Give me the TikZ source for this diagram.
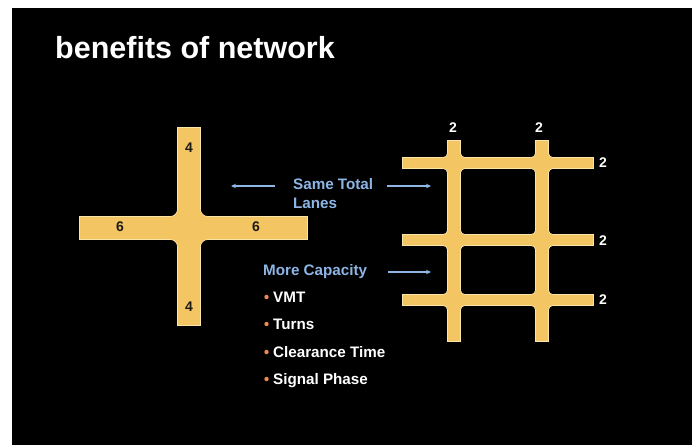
\documentclass[tikz,border=0pt]{standalone}
\usepackage{fontspec}
\setmainfont{Liberation Sans}
\usetikzlibrary{arrows.meta}
\definecolor{road}{HTML}{F3C563}
\definecolor{roadedge}{HTML}{FBE4A8}
\definecolor{lblue}{HTML}{8DB6E6}
\definecolor{borange}{HTML}{EE8A52}
\definecolor{numdark}{HTML}{1E1A14}
% fillet arc (outline pass) and fillet area (fill pass): corner x, y, dir x, dir y, radius
\newcommand\filletarc[5]{\draw[roadedge,line width=1.5pt,shift={(#1,#2)},xscale=#3,yscale=#4] (0,#5) .. controls (0,0.448*#5) and (0.448*#5,0) .. (#5,0);}
\newcommand\filletarea[5]{\fill[road,shift={(#1,#2)},xscale=#3,yscale=#4] (#5,0) -- (0,0) -- (0,#5) .. controls (0,0.448*#5) and (0.448*#5,0) .. (#5,0) -- cycle;}
\begin{document}
\begin{tikzpicture}[x=1pt,y=-1pt,
  edgepass/.style={draw=roadedge,line width=1.5pt},
  fillpass/.style={fill=road},
  lbl/.style={text=lblue,font=\fontsize{15.2}{18}\selectfont\bfseries,inner sep=0pt},
  item/.style={text=white,font=\fontsize{15.2}{18}\selectfont\bfseries,inner sep=0pt,anchor=base west},
  lane/.style={text=numdark,font=\fontsize{14}{16}\selectfont\bfseries,inner sep=0pt},
  lanew/.style={text=white,font=\fontsize{14}{16}\selectfont\bfseries,inner sep=0pt},
  arr/.style={draw=lblue,line width=1.1pt,-{Stealth[length=5pt,width=4.5pt]}}]
\useasboundingbox (0,0) rectangle (692,445);
\fill[white] (0,0) rectangle (692,445);
\fill[black] (12,8) rectangle (692,445);

% title
\node[anchor=base west,text=white,inner sep=0pt,font=\fontsize{30.5}{36}\selectfont\bfseries] (title) at (55,58) {benefits of network};

% ---- single intersection (cross) ----
\path[edgepass] (178,128) rectangle (200,325);
\path[edgepass] (80,217) rectangle (307,239);
\filletarc{178}{217}{-1}{-1}{8}
\filletarc{200}{217}{1}{-1}{8}
\filletarc{178}{239}{-1}{1}{8}
\filletarc{200}{239}{1}{1}{8}
\path[fillpass] (178,128) rectangle (200,325);
\path[fillpass] (80,217) rectangle (307,239);
\filletarea{178}{217}{-1}{-1}{8}
\filletarea{200}{217}{1}{-1}{8}
\filletarea{178}{239}{-1}{1}{8}
\filletarea{200}{239}{1}{1}{8}
\node[lane] (n4a) at (189,148) {4};
\node[lane] (n4b) at (189,307) {4};
\node[lane] (n6a) at (120,227) {6};
\node[lane] (n6b) at (256,227) {6};

% ---- network grid ----
\foreach \xl in {448,536} {\path[edgepass] (\xl,141) rectangle ({\xl+12},341);}
\foreach \yt in {158,235,295} {\path[edgepass] (403,\yt) rectangle (593,{\yt+10});}
\foreach \xl in {448,536} {
  \foreach \yt in {158,235,295} {
    \pgfmathsetmacro\xr{\xl+12}
    \pgfmathsetmacro\yb{\yt+10}
    \filletarc{\xl}{\yt}{-1}{-1}{5}
    \filletarc{\xr}{\yt}{1}{-1}{5}
    \filletarc{\xl}{\yb}{-1}{1}{5}
    \filletarc{\xr}{\yb}{1}{1}{5}
  }
}
\foreach \xl in {448,536} {\path[fillpass] (\xl,141) rectangle ({\xl+12},341);}
\foreach \yt in {158,235,295} {\path[fillpass] (403,\yt) rectangle (593,{\yt+10});}
\foreach \xl in {448,536} {
  \foreach \yt in {158,235,295} {
    \pgfmathsetmacro\xr{\xl+12}
    \pgfmathsetmacro\yb{\yt+10}
    \filletarea{\xl}{\yt}{-1}{-1}{5}
    \filletarea{\xr}{\yt}{1}{-1}{5}
    \filletarea{\xl}{\yb}{-1}{1}{5}
    \filletarea{\xr}{\yb}{1}{1}{5}
  }
}
\node[lanew] (t2a) at (453,127.5) {2};
\node[lanew] (t2b) at (539,127.5) {2};
\node[lanew] (r2a) at (603,162.5) {2};
\node[lanew] (r2b) at (603,240.5) {2};
\node[lanew] (r2c) at (603,299.5) {2};

% ---- labels and arrows ----
\node[lbl,anchor=base west] (same) at (293,189) {Same Total};
\node[lbl,anchor=base west] (lanes) at (293,208) {Lanes};
\node[lbl,anchor=base west] (more) at (263,275) {More Capacity};
\coordinate (a1s) at (275,186);
\coordinate (a1e) at (231,186);
\coordinate (a2s) at (387,186);
\coordinate (a2e) at (431,186);
\coordinate (a3s) at (388,272);
\coordinate (a3e) at (431,272);
\draw[arr] (a1s) -- (a1e);
\draw[arr] (a2s) -- (a2e);
\draw[arr] (a3s) -- (a3e);

\foreach \yy/\tx/\nm in {302/VMT/b1,329/Turns/b2,357/Clearance Time/b3,384/Signal Phase/b4} {
  \fill[borange] (266.5,\yy-5) circle (2.2);
  \node[item] (\nm) at (273,\yy) {\tx};
}
\end{tikzpicture}
\end{document}
